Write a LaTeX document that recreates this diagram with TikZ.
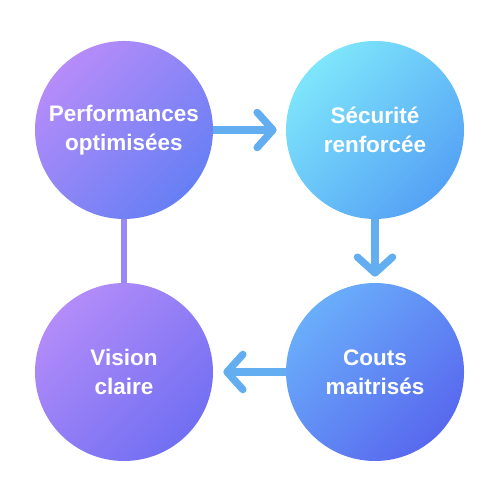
\documentclass[tikz,border=0pt]{standalone}
\usepackage{fontspec}
\setmainfont{Liberation Sans}
\usetikzlibrary{arrows.meta}

\definecolor{perfTop}{HTML}{B68CF9}
\definecolor{perfBot}{HTML}{667FF4}
\definecolor{secuTop}{HTML}{7EE6FB}
\definecolor{secuBot}{HTML}{55A2F5}
\definecolor{coutTop}{HTML}{6AAEFB}
\definecolor{coutBot}{HTML}{5868EE}
\definecolor{visiTop}{HTML}{B38CF9}
\definecolor{visiBot}{HTML}{716FF2}
\definecolor{flowblue}{HTML}{62AEF1}
\definecolor{linkviolet}{HTML}{9A88F6}

\begin{document}
\begin{tikzpicture}[
  disc/.style 2 args={circle,inner sep=0pt,minimum size=3.56cm,
    top color=#1,bottom color=#2,shading angle=45,
    align=center,text=white,font=\fontsize{12.8}{16.5}\selectfont\bfseries},
  flow/.style={draw=flowblue,line width=4.2pt,-{Straight Barb[length=9pt,width=20pt,round]}},
  link/.style={draw=linkviolet,line width=3pt}
]
  \useasboundingbox (0,0) rectangle (10,10);
  \node[disc={perfTop}{perfBot}] (perf) at (2.48,7.40) {Performances\\optimisées};
  \node[disc={secuTop}{secuBot}] (secu) at (7.50,7.40) {Sécurité\\renforcée};
  \node[disc={coutTop}{coutBot}] (cout) at (7.50,2.56) {Couts\\maitrisés};
  \node[disc={visiTop}{visiBot}] (visi) at (2.48,2.56) {Vision\\claire};
  \draw[flow,shorten >=0.18cm] (perf) -- (secu);
  \draw[flow,shorten >=0.12cm] (secu) -- (cout);
  \draw[flow,shorten >=0.20cm] (cout) -- (visi);
  \draw[link] (visi) -- (perf);
\end{tikzpicture}
\end{document}
